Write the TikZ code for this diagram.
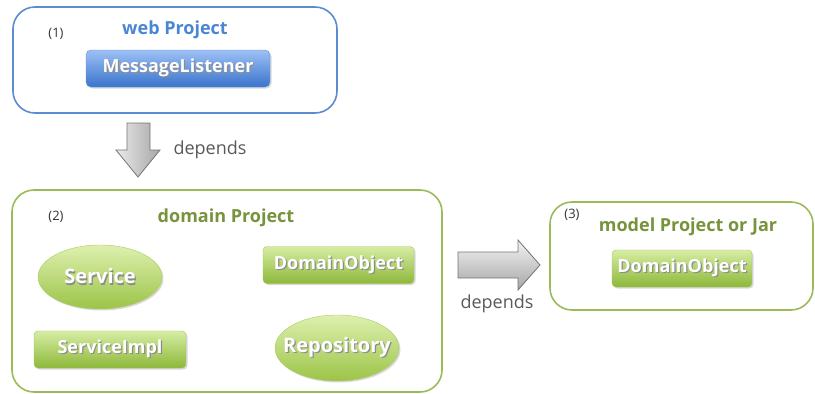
\documentclass[tikz,border=0pt]{standalone}
\usepackage{fontspec}
\setmainfont{Open Sans}
\usetikzlibrary{shapes.geometric,shadows}
\definecolor{bluestroke}{HTML}{5B8BD0}
\definecolor{bluetitle}{HTML}{4A86D6}
\definecolor{bluetop}{HTML}{9DC0F5}
\definecolor{bluebot}{HTML}{3A74CC}
\definecolor{greenstroke}{HTML}{9BBB59}
\definecolor{greentitle}{HTML}{77933C}
\definecolor{greentop}{HTML}{D6EDA3}
\definecolor{greenbot}{HTML}{8DB83A}
\definecolor{elltop}{HTML}{DDF0AE}
\definecolor{ellbot}{HTML}{9CC448}
\definecolor{greytext}{HTML}{595959}
\newcommand{\shtxt}[1]{\makebox[0pt][l]{\raisebox{-1.2pt}{\hspace{1.2pt}\textcolor{black!45}{#1}}}#1}
\tikzset{
  project/.style={draw, line width=1.6pt, rounded corners=22pt, fill=white},
  numlabel/.style={font=\fontsize{13}{15}\selectfont, text=black!80},
  bluebox/.style={rounded corners=5pt, top color=bluetop, bottom color=bluebot, draw=bluebot!80,
    drop shadow={opacity=0.3, shadow xshift=1.5pt, shadow yshift=-1.5pt},
    text=white, font=\fontsize{18}{21}\selectfont\bfseries, minimum height=37pt, inner sep=0pt},
  greenbox/.style={rounded corners=4pt, top color=greentop, bottom color=greenbot, draw=greenbot!80,
    drop shadow={opacity=0.3, shadow xshift=1.5pt, shadow yshift=-1.5pt},
    text=white, font=\fontsize{18}{21}\selectfont\bfseries, minimum height=37pt, inner sep=0pt},
  greenell/.style={ellipse, top color=elltop, bottom color=ellbot, draw=ellbot!85,
    drop shadow={opacity=0.3, shadow xshift=1.5pt, shadow yshift=-1.5pt},
    text=white, font=\fontsize{20}{23}\selectfont\bfseries, inner xsep=-10pt, inner ysep=0pt},
  bigarrow/.style={draw=black!55, line width=0.8pt},
  deptext/.style={text=greytext, font=\fontsize{18}{21}\selectfont},
  ptitle/.style={font=\fontsize{18}{21}\selectfont\bfseries},
}
\begin{document}
\begin{tikzpicture}[x=1pt,y=-1pt]
\useasboundingbox (0,0) rectangle (815,394);
% project boxes
\draw[project, draw=bluestroke] (13,7) rectangle (337,113);
\draw[project, draw=greenstroke] (12,190) rectangle (442,392);
\draw[project, draw=greenstroke] (550,202) rectangle (813,310);
% web project
\node[numlabel] (n1) at (56,34) {(1)};
\node[ptitle, text=bluetitle] (t1) at (175,30) {web Project};
\node[bluebox, minimum width=184pt] (ml) at (178,68.5) {\shtxt{MessageListener}};
% down arrow
\draw[bigarrow, left color=black!8, right color=black!35]
  (127,123) -- (150,123) -- (150,150) -- (160,150) -- (138,177) -- (116,150) -- (127,150) -- cycle;
\node[deptext, anchor=west] (d1) at (170,150) {depends};
% domain project
\node[numlabel] (n2) at (56,217) {(2)};
\node[ptitle, text=greentitle] (t2) at (226,218) {domain Project};
\node[greenell, minimum width=124pt, minimum height=64pt] (svc) at (100,277) {\shtxt{Service}};
\node[greenbox, minimum width=152pt] (impl) at (110,349.5) {\shtxt{ServiceImpl}};
\node[greenbox, minimum width=151pt] (dobj) at (338.5,265) {\shtxt{DomainObject}};
\node[greenell, minimum width=122pt, minimum height=66pt] (repo) at (337,348) {\shtxt{Repository}};
% right arrow
\draw[bigarrow, top color=black!5, bottom color=black!35]
  (458,252) -- (518,252) -- (518,240) -- (540,265) -- (518,290) -- (518,278) -- (458,278) -- cycle;
\node[deptext] (d2) at (497,304) {depends};
% model project
\node[numlabel] (n3) at (572,215) {(3)};
\node[ptitle, text=greentitle] (t3) at (688,227) {model Project or Jar};
\node[greenbox, minimum width=140pt] (mobj) at (682,268.5) {\shtxt{DomainObject}};
\end{tikzpicture}
\end{document}
